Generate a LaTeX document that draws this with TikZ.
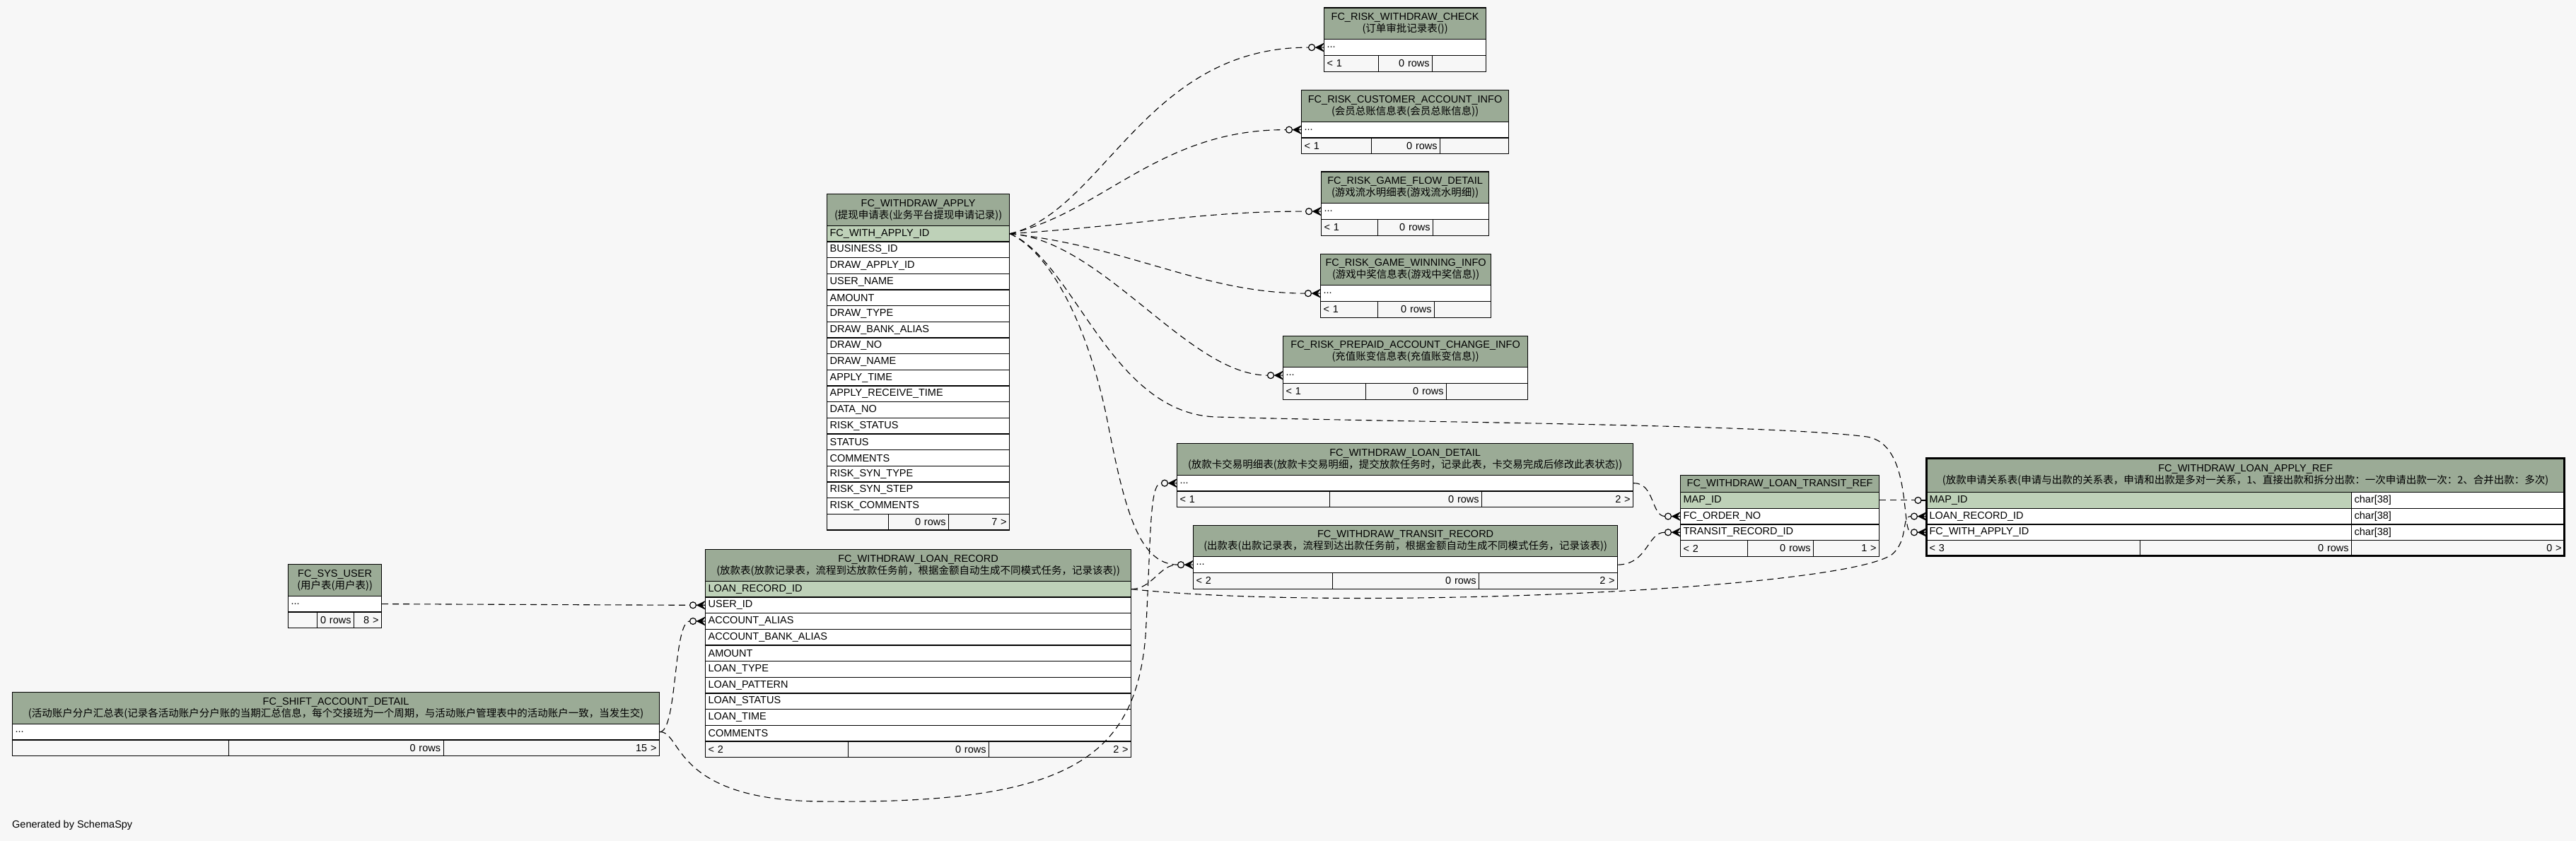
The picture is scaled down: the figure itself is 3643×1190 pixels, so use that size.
\documentclass[tikz,border=0pt]{standalone}
\usepackage{fontspec}
\setmainfont{Liberation Sans}
\newfontfamily\cjk{Noto Sans CJK SC}
\definecolor{cHdr}{HTML}{9BAB96}
\definecolor{cPk}{HTML}{BED1B8}
\definecolor{cBg}{HTML}{F7F7F7}
\newcommand\tblfont{\fontsize{14.5}{17}\selectfont}
\tikzset{
 cellbase/.style={draw=black,line width=1.2pt,inner xsep=4pt,inner ysep=0pt,anchor=north west,font=\tblfont},
 hdrcell/.style={cellbase,fill=cHdr,align=center},
 pkcell/.style={cellbase,fill=cPk,align=left},
 colcell/.style={cellbase,fill=white,align=left},
 ftlcell/.style={cellbase,fill=cBg,align=left},
 ftrcell/.style={cellbase,fill=cBg,align=right},
 fk/.style={draw=black,line width=1.1pt,dash pattern=on 9pt off 6pt},
 mk/.style={draw=black,line width=1.2pt,solid},
}
\newcommand\tcell[7]{\pgfmathsetmacro\cellw{#4-8}\node[#6,minimum width=#4pt,minimum height=#5pt,text width=\cellw pt] (#1) at (#2,#3) {#7};}
\newcommand\tcols[5]{\foreach \t [count=\i] in {#5} {\pgfmathsetmacro\yy{#3+(\i-1)*22.67}\tcell{#1\i}{#2}{\yy}{#4}{22.67}{colcell}{\t}}}
\newcommand\tfoot[9]{%
 \pgfmathsetmacro\wa{#4-#3}\pgfmathsetmacro\wb{#5-#4}\pgfmathsetmacro\wc{#6-#5}%
 \tcell{#1fa}{#3}{#2}{\wa}{22.67}{ftlcell}{\mbox{#7}}%
 \tcell{#1fb}{#4}{#2}{\wb}{22.67}{ftrcell}{\mbox{#8}}%
 \tcell{#1fc}{#5}{#2}{\wc}{22.67}{ftrcell}{\mbox{#9}}}
\newcommand\crowodot[1]{%
 \draw[mk] ([xshift=-17pt]#1.west) circle[radius=4.5pt];
 \draw[mk] ([xshift=-12.5pt]#1.west) -- ([xshift=-11pt]#1.west)
   ([xshift=-11pt]#1.west) -- ([yshift=5.5pt]#1.west)
   ([xshift=-11pt]#1.west) -- (#1.west)
   ([xshift=-11pt]#1.west) -- ([yshift=-5.5pt]#1.west);
 \fill ([xshift=-11pt]#1.west) -- ([yshift=5pt]#1.west) -- ([xshift=-4pt]#1.west) -- ([yshift=-5pt]#1.west) -- cycle;}
\newcommand\odotmark[1]{%
 \draw[mk] ([xshift=-11.5pt]#1.west) circle[radius=4.5pt];
 \draw[mk] ([xshift=-7pt]#1.west) -- (#1.west);}
\begin{document}
\begin{tikzpicture}[x=1pt,y=-1pt]
\path[use as bounding box,fill=cBg] (0,0) rectangle (3643,1190);

% FC_RISK_WITHDRAW_CHECK
\tcell{rwch}{1872}{10.5}{229}{44.7}{hdrcell}{FC\_RISK\_WITHDRAW\_CHECK\\{\cjk (订单审批记录表())}}
\tcell{rwc1}{1872}{55.2}{229}{22.67}{colcell}{...}
\tfoot{rwc}{77.87}{1872}{1949}{2025}{2101}{< 1}{0 rows}{}

% FC_RISK_CUSTOMER_ACCOUNT_INFO
\tcell{rcaih}{1840}{127}{293}{44.7}{hdrcell}{FC\_RISK\_CUSTOMER\_ACCOUNT\_INFO\\{\cjk (会员总账信息表(会员总账信息))}}
\tcell{rcai1}{1840}{171.7}{293}{22.67}{colcell}{...}
\tfoot{rcai}{194.37}{1840}{1939}{2036}{2133}{< 1}{0 rows}{}

% FC_RISK_GAME_FLOW_DETAIL
\tcell{rgfdh}{1868}{242.5}{237}{44.7}{hdrcell}{FC\_RISK\_GAME\_FLOW\_DETAIL\\{\cjk (游戏流水明细表(游戏流水明细))}}
\tcell{rgfd1}{1868}{287.2}{237}{22.67}{colcell}{...}
\tfoot{rgfd}{309.87}{1868}{1948}{2026}{2105}{< 1}{0 rows}{}

% FC_RISK_GAME_WINNING_INFO
\tcell{rgwih}{1867}{358.5}{241}{44.7}{hdrcell}{FC\_RISK\_GAME\_WINNING\_INFO\\{\cjk (游戏中奖信息表(游戏中奖信息))}}
\tcell{rgwi1}{1867}{403.2}{241}{22.67}{colcell}{...}
\tfoot{rgwi}{425.87}{1867}{1948}{2028}{2108}{< 1}{0 rows}{}

% FC_RISK_PREPAID_ACCOUNT_CHANGE_INFO
\tcell{rpacih}{1814}{474.5}{346}{44.7}{hdrcell}{FC\_RISK\_PREPAID\_ACCOUNT\_CHANGE\_INFO\\{\cjk (充值账变信息表(充值账变信息))}}
\tcell{rpaci1}{1814}{519.2}{346}{22.67}{colcell}{...}
\tfoot{rpaci}{541.87}{1814}{1931}{2045}{2160}{< 1}{0 rows}{}

% FC_WITHDRAW_APPLY
\tcell{aph}{1169}{274}{258}{44.7}{hdrcell}{FC\_WITHDRAW\_APPLY\\{\cjk (提现申请表(业务平台提现申请记录))}}
\tcell{ap0}{1169}{318.7}{258}{22.67}{pkcell}{FC\_WITH\_APPLY\_ID}
\tcols{ap}{1169}{341.37}{258}{BUSINESS\_ID,DRAW\_APPLY\_ID,USER\_NAME,AMOUNT,DRAW\_TYPE,DRAW\_BANK\_ALIAS,DRAW\_NO,DRAW\_NAME,APPLY\_TIME,APPLY\_RECEIVE\_TIME,DATA\_NO,RISK\_STATUS,STATUS,COMMENTS,RISK\_SYN\_TYPE,RISK\_SYN\_STEP,RISK\_COMMENTS}
\tfoot{ap}{726.76}{1169}{1256}{1341}{1427}{}{0 rows}{7 >}

% FC_WITHDRAW_LOAN_RECORD
\tcell{lrh}{997}{777}{602}{44.7}{hdrcell}{FC\_WITHDRAW\_LOAN\_RECORD\\{\cjk (放款表(放款记录表，流程到达放款任务前，根据金额自动生成不同模式任务，记录该表))}}
\tcell{lr0}{997}{821.7}{602}{22.67}{pkcell}{LOAN\_RECORD\_ID}
\tcols{lr}{997}{844.37}{602}{USER\_ID,ACCOUNT\_ALIAS,ACCOUNT\_BANK\_ALIAS,AMOUNT,LOAN\_TYPE,LOAN\_PATTERN,LOAN\_STATUS,LOAN\_TIME,COMMENTS}
\tfoot{lr}{1048.4}{997}{1199}{1398}{1599}{< 2}{0 rows}{2 >}

% FC_SYS_USER
\tcell{suh}{407}{798}{132}{44.7}{hdrcell}{FC\_SYS\_USER\\{\cjk (用户表(用户表))}}
\tcell{su1}{407}{842.7}{132}{22.67}{colcell}{...}
\tfoot{su}{865.37}{407}{448}{500}{539}{}{0 rows}{8 >}

% FC_SHIFT_ACCOUNT_DETAIL
\tcell{shh}{17}{979}{915}{44.7}{hdrcell}{FC\_SHIFT\_ACCOUNT\_DETAIL\\{\cjk (活动账户分户汇总表(记录各活动账户分户账的当期汇总信息，每个交接班为一个周期，与活动账户管理表中的活动账户一致，当发生交)}}
\tcell{sh1}{17}{1023.7}{915}{22.67}{colcell}{...}
\tfoot{sh}{1046.37}{17}{322.5}{626.5}{932}{}{0 rows}{15 >}

% FC_WITHDRAW_LOAN_DETAIL
\tcell{ldh}{1664}{627}{645}{44.7}{hdrcell}{FC\_WITHDRAW\_LOAN\_DETAIL\\{\cjk (放款卡交易明细表(放款卡交易明细，提交放款任务时，记录此表，卡交易完成后修改此表状态))}}
\tcell{ld1}{1664}{671.7}{645}{22.67}{colcell}{...}
\tfoot{ld}{694.37}{1664}{1880}{2095}{2309}{< 1}{0 rows}{2 >}

% FC_WITHDRAW_TRANSIT_RECORD
\tcell{trh}{1687}{742.5}{600}{44.7}{hdrcell}{FC\_WITHDRAW\_TRANSIT\_RECORD\\{\cjk (出款表(出款记录表，流程到达出款任务前，根据金额自动生成不同模式任务，记录该表))}}
\tcell{tr1}{1687}{787.2}{600}{22.67}{colcell}{...}
\tfoot{tr}{809.87}{1687}{1884}{2091}{2287}{< 2}{0 rows}{2 >}

% FC_WITHDRAW_LOAN_TRANSIT_REF
\tcell{trefh}{2376}{672}{281}{24}{hdrcell}{FC\_WITHDRAW\_LOAN\_TRANSIT\_REF}
\tcell{tref1}{2376}{696}{281}{22.67}{pkcell}{MAP\_ID}
\tcell{tref2}{2376}{718.67}{281}{22.67}{colcell}{FC\_ORDER\_NO}
\tcell{tref3}{2376}{741.34}{281}{22.67}{colcell}{TRANSIT\_RECORD\_ID}
\tfoot{tref}{764}{2376}{2471}{2564}{2657}{< 2}{0 rows}{1 >}

% FC_WITHDRAW_LOAN_APPLY_REF
\tcell{larh}{2724}{648}{902}{48}{hdrcell}{FC\_WITHDRAW\_LOAN\_APPLY\_REF\\{\cjk (放款申请关系表(申请与出款的关系表，申请和出款是多对一关系，1、直接出款和拆分出款：一次申请出款一次：2、合并出款：多次)}}
\tcell{lar1}{2724}{696}{601}{22.67}{pkcell}{MAP\_ID}
\tcell{lar1t}{3325}{696}{301}{22.67}{colcell}{char[38]}
\tcell{lar2}{2724}{718.67}{601}{22.67}{colcell}{LOAN\_RECORD\_ID}
\tcell{lar2t}{3325}{718.67}{301}{22.67}{colcell}{char[38]}
\tcell{lar3}{2724}{741.34}{601}{22.67}{colcell}{FC\_WITH\_APPLY\_ID}
\tcell{lar3t}{3325}{741.34}{301}{22.67}{colcell}{char[38]}
\tfoot{lar}{764}{2724}{3026}{3325}{3626}{< 3}{0 rows}{0 >}
\draw[line width=3pt] (2724,648) rectangle (3626,786.67);

\node[anchor=west,inner sep=0pt,font=\tblfont] (gen) at (17,1168) {Generated by SchemaSpy};

% connectors from FC_WITHDRAW_APPLY
\draw[fk] (ap0.east) .. controls (1560,300) and (1620,66.5) .. ([xshift=-21.5pt]rwc1.west);
\draw[fk] (ap0.east) .. controls (1560,300) and (1640,183) .. ([xshift=-21.5pt]rcai1.west);
\draw[fk] (ap0.east) .. controls (1600,320) and (1700,298.5) .. ([xshift=-21.5pt]rgfd1.west);
\draw[fk] (ap0.east) .. controls (1600,350) and (1700,414.5) .. ([xshift=-21.5pt]rgwi1.west);
\draw[fk] (ap0.east) .. controls (1560,340) and (1680,530.5) .. ([xshift=-21.5pt]rpaci1.west);
\draw[fk] (ap0.east) .. controls (1520,370) and (1570,585) .. (1720,590) .. controls (2000,598) and (2500,600) .. (2640,618) .. controls (2705,628) and (2688,752.7) .. ([xshift=-21.5pt]lar3.west);
\draw[fk] (ap0.east) .. controls (1490,360) and (1540,470) .. (1565,590) .. controls (1590,720) and (1610,798.5) .. ([xshift=-21.5pt]tr1.west);
% from FC_WITHDRAW_LOAN_RECORD
\draw[fk] (lr0.east) .. controls (1630,833) and (1640,798.5) .. ([xshift=-21.5pt]tr1.west);
\draw[fk] (lr0.east) .. controls (1900,865) and (2600,835) .. (2675,785) .. controls (2700,765) and (2688,730) .. ([xshift=-21.5pt]lar2.west);
% from FC_SYS_USER
\draw[fk] (su1.east) -- ([xshift=-21.5pt]lr1.west);
% from FC_SHIFT_ACCOUNT_DETAIL
\draw[fk] (sh1.east) .. controls (958,1035) and (952,878.4) .. ([xshift=-21.5pt]lr2.west);
\draw[fk] (sh1.east) .. controls (965,1035) and (950,1132) .. (1160,1134) .. controls (1500,1138) and (1605,1080) .. (1620,900) .. controls (1628,760) and (1625,683) .. ([xshift=-21.5pt]ld1.west);
% to FC_WITHDRAW_LOAN_TRANSIT_REF
\draw[fk] (ld1.east) .. controls (2340,683) and (2335,730) .. ([xshift=-21.5pt]tref2.west);
\draw[fk] (tr1.east) .. controls (2330,798.5) and (2330,752.7) .. ([xshift=-21.5pt]tref3.west);
\draw[fk] (tref1.east) -- ([xshift=-16pt]lar1.west);

% end markers
\crowodot{rwc1}
\crowodot{rcai1}
\crowodot{rgfd1}
\crowodot{rgwi1}
\crowodot{rpaci1}
\crowodot{lar3}
\crowodot{lar2}
\crowodot{tr1}
\crowodot{lr1}
\crowodot{lr2}
\crowodot{ld1}
\crowodot{tref2}
\crowodot{tref3}
\odotmark{lar1}
\end{tikzpicture}
\end{document}
